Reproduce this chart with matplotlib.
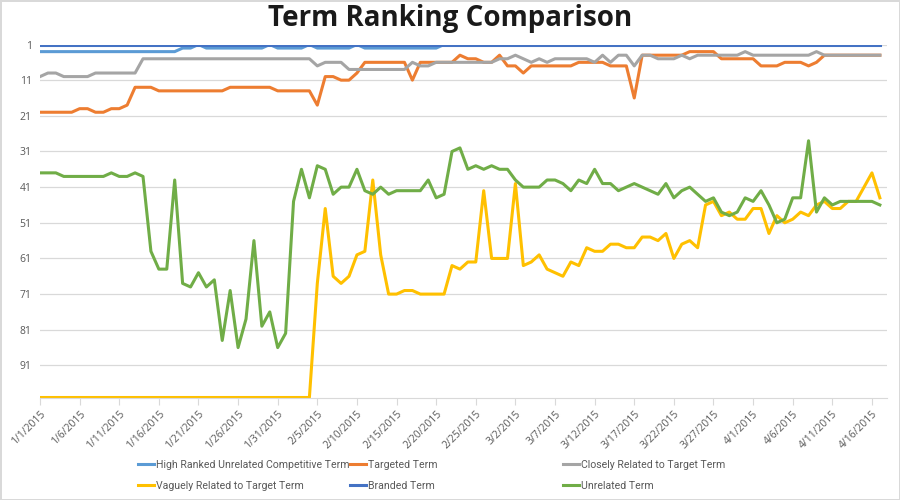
import matplotlib
matplotlib.use('Agg')
import matplotlib.pyplot as plt
from matplotlib.lines import Line2D
import pandas as pd

dates = pd.date_range('2015-01-01', '2015-04-17', freq='D')

# rank of each term per day (1 = top)
high_ranked = [3]*18 + [2, 2, 1] + [2]*8 + [1] + [2]*4 + [1] + [2]*5 + [1] + [2]*10 + [1]*56
targeted = ([20]*5 + [19, 19, 20, 20, 19, 19, 18] + [13]*3 + [14]*9 + [13]*6 + [14]*5
            + [18, 10, 10, 11, 11, 9] + [6]*6 + [11] + [6]*5 + [4, 5, 5, 6, 6, 4, 7, 7, 9]
            + [7]*6 + [6]*4 + [7]*3 + [16] + [4]*6 + [3]*4 + [5]*5 + [7]*3 + [6]*3
            + [7, 6] + [4]*8)
closely = ([10, 9, 9] + [10]*4 + [9]*6 + [5]*22 + [7, 6, 6, 6] + [8]*8 + [6, 7, 7] + [6]*8
           + [5, 5, 4, 5, 6, 5, 6] + [5]*5 + [6, 4, 6, 4, 4, 7, 4, 4, 5, 5, 5, 4, 5]
           + [4]*6 + [3] + [4]*8 + [3] + [4]*8)
vaguely = ([100]*35 + [68, 47, 66, 68, 66, 60, 59, 39, 60, 71, 71, 70, 70, 71, 71, 71, 71,
           63, 64, 62, 62, 42, 61, 61, 61, 40, 63, 62, 60, 64, 65, 66, 62, 63, 58, 59, 59,
           57, 57, 58, 58, 55, 55, 56, 54, 61, 57, 56, 58, 46, 45, 49, 48, 50, 50, 47, 47,
           54, 49, 51, 50, 48, 49, 46, 45, 47, 47, 45, 45, 41, 37, 44])
branded = [1]*107
unrelated = [37, 37, 37, 38, 38, 38, 38, 38, 38, 37, 38, 38, 37, 38, 59, 64, 64, 39, 68, 69,
             65, 69, 67, 84, 70, 86, 78, 56, 80, 76, 86, 82, 45, 36, 44, 35, 36, 43, 41, 41,
             36, 42, 43, 41, 43, 42, 42, 42, 42, 39, 44, 43, 31, 30, 36, 35, 36, 35, 36, 36,
             39, 41, 41, 41, 39, 39, 40, 42, 39, 40, 36, 40, 40, 42, 41, 40, 41, 42, 43, 40,
             44, 42, 41, 43, 45, 44, 48, 49, 48, 44, 45, 42, 46, 51, 50, 44, 44, 28, 48, 44,
             46, 45, 45, 45, 45, 45, 46]

series = [
    ('High Ranked Unrelated Competitive Term', high_ranked, '#5B9BD5'),
    ('Targeted Term', targeted, '#ED7D31'),
    ('Closely Related to Target Term', closely, '#A5A5A5'),
    ('Vaguely Related to Target Term', vaguely, '#FFC000'),
    ('Branded Term', branded, '#4472C4'),
    ('Unrelated Term', unrelated, '#70AD47'),
]

plt.rcParams['font.family'] = ['Open Sans', 'DejaVu Sans']

fig = plt.figure(figsize=(9, 5), dpi=100)
fig.patch.set_edgecolor('#d9d9d9')
fig.patch.set_linewidth(1)
ax = fig.add_axes([40/900, 1 - 397.5/500, 847/900, 353/500])

for name, vals, col in series:
    ax.plot(dates, vals, color=col, lw=2.2, label=name, solid_joinstyle='round')

ax.set_ylim(100, 1)
ax.set_xlim(dates[0], dates[0] + pd.Timedelta(days=106.9))
ax.set_yticks(range(1, 100, 10))
ax.grid(axis='y', color='#d9d9d9', lw=0.9)
ax.set_axisbelow(True)
for s in ['top', 'right', 'left']:
    ax.spines[s].set_visible(False)
ax.spines['bottom'].set_color('#d9d9d9')
ax.tick_params(axis='y', length=0, labelsize=7.5, labelcolor='#595959', pad=6)
tick_dates = dates[::5]
ax.set_xticks(tick_dates)
ax.set_xticklabels(['%d/%d/%d' % (d.month, d.day, d.year) for d in tick_dates],
                   rotation=45, ha='right', rotation_mode='anchor')
ax.tick_params(axis='x', length=5, color='#d9d9d9', labelsize=7.5,
               labelcolor='#595959', pad=3)

fig.text(0.5, 0.963, 'Term Ranking Comparison', ha='center', va='center',
         fontsize=20, fontweight='bold', color='#1a1a1a')

# legend laid out in three fixed columns like the original
cols = [(0, 3), (1, 4), (2, 5)]
xs = [138, 350, 563]
for (a, b), x in zip(cols, xs):
    hs = [Line2D([], [], color=series[i][2], lw=2.2) for i in (a, b)]
    labs = [series[i][0] for i in (a, b)]
    fig.legend(hs, labs, loc='upper left', bbox_to_anchor=(x/900, 1 - 460/500),
               frameon=False, prop={'family': ['Roboto', 'DejaVu Sans'], 'size': 7.6},
               handlelength=1.5, handletextpad=0.25, borderpad=0, borderaxespad=0,
               labelspacing=1.0, labelcolor='#595959')

fig.savefig('out.png', dpi=100)
